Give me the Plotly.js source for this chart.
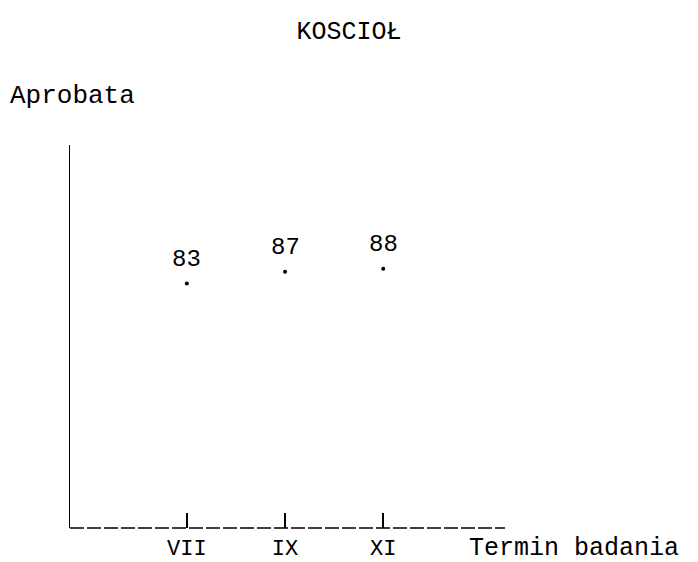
<!DOCTYPE html>
<html>
<head>
<meta charset="utf-8">
<script src="https://cdn.plot.ly/plotly-3.0.1.min.js"></script>
<style>html,body{margin:0;padding:0;background:#fff;}#chart{width:698px;height:562px;}</style>
</head>
<body>
<div id="chart"></div>
<script>
// Data
const categories = ["VII", "IX", "XI"];
const categoryPos = [1, 2, 3];
const approval = [83, 87, 88];
const chartTitle = "KOSCIOŁ";
const yLabel = "Aprobata";
const xLabel = "Termin badania";

const FONT = "Liberation Mono, Courier New, monospace";
const INK = "#000";

const trace = {
  x: categoryPos,
  y: approval,
  mode: "markers",
  type: "scatter",
  marker: {color: INK, size: 4},
  hoverinfo: "skip",
  cliponaxis: false
};

const valueLabels = approval.map((v, i) => ({
  x: categoryPos[i], y: v, xref: "x", yref: "y",
  text: String(v), showarrow: false,
  yshift: 24, yanchor: "middle", xanchor: "center",
  font: {family: FONT, size: 24, color: INK}
}));

const layout = {
  width: 698, height: 562,
  paper_bgcolor: "#fff", plot_bgcolor: "#fff",
  margin: {l: 70, r: 193, t: 145, b: 34},
  showlegend: false,
  title: {
    text: chartTitle, xref: "container", yref: "container",
    x: 0.5, xanchor: "center", y: 0.947, yanchor: "middle",
    font: {family: FONT, size: 25, color: INK}
  },
  xaxis: {
    range: [-0.19, 4.24],
    tickvals: categoryPos, ticktext: categories,
    ticks: "inside", ticklen: 15, tickwidth: 1.5, tickcolor: INK,
    showline: false, showgrid: false, zeroline: false,
    ticklabelstandoff: 4,
    tickfont: {family: FONT, size: 22, color: INK},
    fixedrange: true
  },
  yaxis: {
    range: [0, 130],
    showticklabels: false, ticks: "",
    showline: true, linecolor: INK, linewidth: 1.5,
    showgrid: false, zeroline: false, fixedrange: true
  },
  shapes: [{
    type: "line", xref: "paper", yref: "paper",
    x0: 0, x1: 1, y0: 0, y1: 0,
    line: {color: INK, width: 1.5, dash: "14px,3px"}
  }],
  annotations: [
    ...valueLabels,
    {x: -0.1425, y: 1.128, xref: "paper", yref: "paper", text: yLabel,
     showarrow: false, xanchor: "left", yanchor: "middle",
     font: {family: FONT, size: 26, color: INK}},
    {x: 0.912, y: -0.0548, xref: "paper", yref: "paper", text: xLabel,
     showarrow: false, xanchor: "left", yanchor: "middle",
     font: {family: FONT, size: 25, color: INK}}
  ]
};

Plotly.newPlot("chart", [trace], layout, {displayModeBar: false, staticPlot: true});
</script>
</body>
</html>
